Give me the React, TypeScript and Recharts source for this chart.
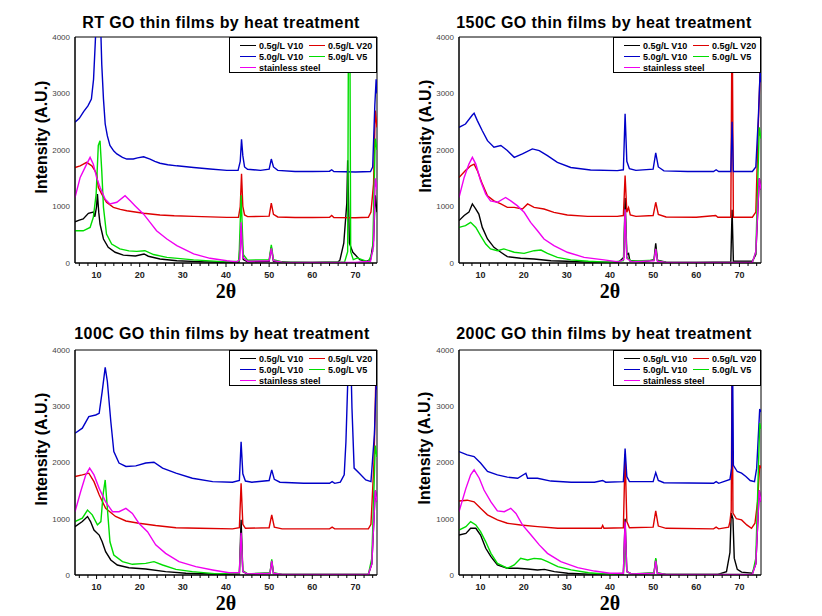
import React from 'react';
import { LineChart, Line, XAxis, YAxis, ReferenceArea } from 'recharts';

type Pt = [number, number];

const seriesNames = ['0.5g/L V10', '0.5g/L V20', '5.0g/L V10', '5.0g/L V5', 'stainless steel'];
const seriesColors = ['#000000', '#dd0000', '#0000c8', '#00dd00', '#f000f0'];
const xTicks = [6, 8, 10, 12, 14, 16, 18, 20, 22, 24, 26, 28, 30, 32, 34, 36, 38, 40, 42, 44, 46, 48, 50, 52, 54, 56, 58, 60, 62, 64, 66, 68, 70, 72, 74];
const yTicks = [0, 1000, 2000, 3000, 4000];

// ---- RT ----
const rtBlack: Pt[] = [[5,730],[6,760],[6.9,780],[8.1,880],[9.25,900],[9.6,820],[10,1000],[10.2,1220],[10.5,900],[10.8,690],[11.6,425],[12.7,277],[14.3,190],[16.2,140],[19,125],[21,160],[22,120],[24.7,70],[28.6,40],[35,20],[40,12],[43,15],[43.5,650],[44,60],[45,20],[50,30],[50.5,280],[51,30],[55,10],[60,10],[66,20],[66.4,50],[67.3,350],[68,1060],[68.2,1820],[68.6,350],[69.4,190],[71,60],[72.5,30],[73.5,60],[74.2,400],[74.6,1200],[75,900]];
const rtRed: Pt[] = [[5,1690],[6.2,1720],[7.7,1780],[8.9,1720],[9.5,1650],[10,1575],[10.4,1340],[11.2,1220],[12.3,1075],[13.9,985],[15.5,950],[17,925],[20.9,880],[24.7,850],[28,835],[32.5,826],[40.2,808],[42.9,810],[43.3,1000],[43.6,1580],[43.9,1000],[44.3,850],[45,820],[50,830],[50.5,1060],[51,860],[52,815],[56,805],[60,805],[64,810],[64.5,840],[65,805],[70,800],[73,810],[73.6,900],[74.2,1400],[74.6,2700],[75,2400]];
const rtBlue: Pt[] = [[5,2490],[6,2560],[7,2680],[8,2780],[8.8,2900],[9.3,3250],[9.7,3900],[10.2,4800],[10.8,4600],[11.2,3520],[11.6,2900],[12,2460],[12.5,2250],[13.1,2080],[14,1980],[14.7,1930],[16,1870],[17,1840],[18.5,1840],[19.5,1860],[20.9,1880],[22.4,1840],[23.5,1800],[24.7,1765],[26.5,1740],[28.6,1720],[32.5,1690],[36.3,1665],[40.2,1640],[42.8,1640],[43.3,1800],[43.6,2190],[43.9,1900],[44.3,1700],[45,1660],[48,1640],[50,1660],[50.5,1840],[51,1700],[52,1640],[56,1620],[60,1620],[64,1625],[64.5,1650],[65,1620],[70,1610],[73.5,1620],[74,1700],[74.5,2800],[74.8,3250],[75,3000]];
const rtGreen: Pt[] = [[5,570],[6.9,570],[8.5,630],[9.25,810],[9.9,1220],[10.4,2080],[10.8,2165],[11.2,1635],[11.6,985],[12.3,513],[13.5,336],[15.4,250],[17.5,215],[19.3,206],[21.2,218],[23.2,150],[26.3,100],[32.5,55],[40,20],[43,30],[43.5,1200],[44,150],[45,50],[50,60],[50.5,320],[51,60],[53,20],[60,10],[67.5,20],[68.2,200],[68.4,4500],[68.7,4500],[68.9,200],[69.5,60],[70.5,90],[71.5,60],[73,20],[74,200],[74.6,2200],[75,2000]];
const rtMagenta: Pt[] = [[5,1160],[6.2,1515],[7.7,1750],[8.5,1870],[9.25,1750],[10,1515],[10.8,1340],[12,1130],[13.1,1045],[14.7,1075],[16.6,1190],[17.8,1100],[18.9,1015],[20.9,865],[22.4,720],[23.9,570],[26.3,425],[28.6,307],[32.5,160],[36.3,83],[40.2,40],[42.5,20],[43.2,60],[43.5,720],[43.9,100],[45,30],[50,40],[50.5,260],[51,40],[53,15],[60,10],[65,10],[70,10],[73.5,30],[74.2,300],[74.6,1500],[75,1300]];

// ---- 150C ----
const c150Black: Pt[] = [[5,750],[6.2,840],[7.3,900],[8.1,1045],[8.9,955],[9.6,867],[10.4,630],[11.6,425],[13.1,277],[14.7,190],[16.2,112],[19.3,83],[22.4,70],[26.3,40],[30,30],[35,15],[42,15],[43.2,100],[43.5,1150],[43.9,150],[44.3,170],[44.6,40],[48,20],[50.2,60],[50.6,350],[51,50],[53,15],[60,10],[68,20],[68.3,940],[68.6,30],[73,30],[73.8,150],[74.6,1500],[75,1300]];
const c150Red: Pt[] = [[5,1515],[6.5,1635],[7.7,1720],[8.5,1750],[9.25,1635],[10.4,1400],[11.6,1190],[13.1,1100],[14.7,1045],[16.2,985],[17.8,985],[19.7,955],[20.9,1045],[22.4,985],[24.7,955],[27,897],[30.1,850],[34.8,826],[41.7,826],[43.1,840],[43.5,1550],[43.9,900],[44.3,980],[44.7,850],[46,825],[50,840],[50.6,1075],[51.2,860],[53,815],[60,810],[64.5,840],[65,810],[68,810],[68.3,4600],[68.6,810],[73,810],[73.8,900],[74.4,2500],[74.8,3400],[75,3200]];
const c150Blue: Pt[] = [[5,2400],[6.5,2460],[8.1,2620],[8.5,2650],[9.25,2520],[10.4,2340],[11.6,2165],[13.1,2050],[14.7,2080],[16.2,1990],[17.8,1870],[19.7,1930],[22,2020],[23.6,1990],[25.5,1900],[27.8,1780],[30.9,1690],[35.5,1645],[41.7,1635],[43.1,1650],[43.5,2640],[43.9,1800],[44.5,1670],[46,1640],[50,1660],[50.6,1950],[51.2,1700],[52.5,1630],[58,1620],[64,1620],[64.6,1650],[65.2,1620],[68,1620],[68.3,2500],[68.6,1620],[73,1620],[73.8,1700],[74.4,2600],[74.8,3400],[75,3200]];
const c150Green: Pt[] = [[5,630],[6.5,660],[7.7,720],[8.9,630],[10,484],[11.2,336],[12.3,250],[13.9,218],[15.4,250],[17.8,190],[20.1,170],[22.4,218],[24,230],[25.5,170],[27.8,100],[30.9,55],[35,30],[40,10],[43.1,40],[43.5,940],[43.9,100],[45,30],[50.2,50],[50.6,250],[51,40],[53,10],[73,10],[73.8,200],[74.6,2400],[75,2200]];
const c150Magenta: Pt[] = [[5,1160],[6.2,1515],[7.3,1750],[8.1,1870],[8.9,1750],[10,1457],[11.2,1220],[12.3,1100],[13.9,1075],[15.8,1160],[17,1100],[18.5,1015],[20.1,897],[21.6,720],[23.2,570],[24.7,425],[27,307],[30.1,190],[34,100],[38.6,55],[42,20],[43.2,60],[43.5,950],[43.9,80],[45,20],[50.2,40],[50.6,250],[51,30],[53,10],[73,10],[73.8,200],[74.6,1500],[75,1300]];

// ---- 100C ----
const c100Black: Pt[] = [[5,860],[6.7,950],[7.9,1040],[8.6,950],[9.4,800],[10.6,710],[11.3,590],[12.1,415],[13.3,267],[14.8,178],[17.5,130],[21.4,107],[26,60],[30.7,30],[40,10],[43.1,20],[43.5,980],[43.9,60],[45,15],[50.2,30],[50.6,250],[51,30],[53,10],[73,10],[73.8,200],[74.6,1500],[75,1300]];
const c100Red: Pt[] = [[5,1750],[6.7,1780],[8.2,1810],[9.4,1660],[10.6,1425],[12.1,1185],[14.4,1040],[16.8,960],[19.8,920],[23.7,880],[28.4,840],[33.8,830],[41.5,820],[43.1,840],[43.5,1630],[43.9,900],[44.5,830],[50,840],[50.6,1070],[51.2,850],[53,820],[64,820],[64.6,850],[65.2,820],[73,820],[73.6,900],[74.3,2000],[74.7,3400],[75,3300]];
const c100Blue: Pt[] = [[5,2520],[6.7,2610],[8.2,2815],[9.8,2845],[10.6,2875],[11.3,3260],[12,3690],[12.5,3440],[13.3,2730],[14,2195],[15.2,1990],[16.8,1930],[19.1,1940],[21.4,1990],[23.3,2005],[25.3,1900],[28.4,1810],[32.2,1720],[36.9,1660],[41.5,1650],[43.1,1680],[43.5,2370],[43.9,1800],[44.5,1670],[46,1650],[50,1680],[50.6,1870],[51.2,1700],[52.5,1650],[58,1630],[64,1630],[64.6,1660],[65.2,1630],[66.5,1650],[67.4,1780],[67.8,2370],[68.2,3380],[68.4,4500],[68.8,4300],[69.2,2965],[69.7,1900],[70.9,1810],[72.4,1690],[73.6,1660],[74.4,2500],[74.8,3400],[75,3300]];
const c100Green: Pt[] = [[5,950],[6.7,1010],[7.9,1155],[9,1070],[10.2,890],[11,950],[11.5,1425],[12,1690],[12.5,1185],[13.1,590],[14,355],[16,237],[18.3,190],[21.4,207],[23.3,237],[25.3,178],[28.4,100],[32.2,60],[38,20],[43.1,30],[43.5,700],[43.9,80],[45,20],[50.2,40],[50.6,280],[51,40],[53,10],[73,10],[73.8,300],[74.6,2300],[75,2100]];
const c100Magenta: Pt[] = [[5,1125],[6.3,1480],[7.5,1780],[8.4,1900],[9.4,1780],[10.6,1540],[12.1,1300],[13.7,1125],[15.2,1125],[16.8,1185],[18.3,1095],[19.8,920],[21.8,770],[23.7,535],[26,385],[29.1,237],[33,148],[36.9,90],[40.7,40],[43.1,40],[43.5,750],[43.9,60],[45,20],[50.2,30],[50.6,250],[51,30],[53,10],[73,10],[73.8,200],[74.6,1500],[75,1300]];

// ---- 200C ----
const c200Black: Pt[] = [[5,710],[6.6,740],[7.7,830],[8.9,830],[10,710],[11.2,475],[12.4,326],[13.9,178],[16.2,120],[18.6,120],[20.9,107],[23.2,90],[24.8,100],[27.1,60],[30.2,30],[35,15],[43.1,20],[43.5,1000],[43.9,60],[45,15],[50.2,30],[50.6,280],[51,30],[53,10],[65,10],[67,60],[67.8,400],[68.1,1100],[68.5,1000],[68.8,300],[69.5,100],[70.5,50],[73,30],[73.8,200],[74.6,1500],[75,1300]];
const c200Red: Pt[] = [[5,1315],[6.9,1330],[8.5,1300],[10,1185],[11.6,1070],[13.9,980],[16.2,920],[19.3,890],[23.2,860],[27.9,830],[32.5,830],[38,830],[38.3,880],[38.6,830],[43.1,840],[43.5,2150],[43.9,950],[44.5,840],[50,850],[50.6,1140],[51.2,870],[53,830],[64,820],[64.6,850],[65.2,820],[67.5,850],[67.8,950],[68.1,1150],[68.3,3900],[68.5,1100],[69.3,1000],[70.5,980],[71.7,890],[72.8,830],[73.6,920],[74.2,1300],[74.7,1950],[75,1900]];
const c200Blue: Pt[] = [[5,2195],[6.9,2135],[8.5,2105],[10,1990],[11.6,1840],[13.9,1780],[16.2,1740],[18.6,1720],[20.5,1810],[20.9,1720],[23.2,1720],[26.3,1670],[31,1650],[36.4,1650],[38.3,1680],[39,1650],[43.1,1660],[43.5,2250],[43.9,1750],[44.5,1660],[50,1660],[50.6,1820],[51.2,1680],[52.5,1640],[64,1630],[64.6,1660],[65.2,1630],[67.8,1700],[68.2,1900],[68.35,4500],[68.6,1950],[69.5,1840],[70.5,1810],[71.5,1750],[72.5,1680],[73.5,1660],[74,1900],[74.7,2950],[75,2900]];
const c200Green: Pt[] = [[5,800],[6.6,860],[7.7,950],[8.9,890],[10,770],[11.2,590],[12.4,385],[13.9,207],[16.2,120],[17.8,178],[19.3,296],[20.9,267],[22.4,296],[24,285],[25.5,237],[27.9,148],[31,90],[35,40],[40,10],[43.1,30],[43.5,600],[43.9,60],[45,20],[50.2,40],[50.6,300],[51,40],[53,10],[73,10],[73.8,300],[74.7,2700],[75,2600]];
const c200Magenta: Pt[] = [[5,1125],[6.6,1540],[7.7,1780],[8.5,1870],[9.7,1720],[10.8,1510],[12.4,1300],[13.9,1140],[15.5,1125],[17,1185],[18.2,1095],[19.7,890],[21.7,710],[23.6,535],[25.5,385],[28.6,237],[32.5,130],[36.4,70],[40,30],[43.1,30],[43.5,950],[43.9,60],[45,20],[50.2,30],[50.6,250],[51,30],[53,10],[73,10],[73.8,200],[74.6,1500],[75,1300]];

const SANS = 'Liberation Sans, Arial, sans-serif';
const SERIF = 'Liberation Serif, Times New Roman, serif';
const W = 411;
const H = 308;

interface PanelProps {
  title: string;
  series: Pt[][];
  left: number;
  top: number;
  plot: { l: number; r: number; t: number; b: number };
  titleX: number;
  titleY: number;
  yLabelX: number;
  yLabelY: number;
}

const XTick = (props: any) => {
  const { x, y, payload } = props;
  const major = payload.value % 10 === 0;
  return (
    <g>
      <line x1={x} x2={x} y1={y} y2={y + (major ? 4 : 3)} stroke="#000" strokeWidth={1} />
      {major && (
        <text x={x} y={y + 15} textAnchor="middle" fontSize={9} fontWeight="bold" fill="#222" fontFamily={SANS}>
          {payload.value}
        </text>
      )}
    </g>
  );
};

const Panel: React.FC<PanelProps> = ({ title, series, left, top, plot, titleX, titleY, yLabelX, yLabelY }) => {
  const margin = { top: plot.t, bottom: H - plot.b - 30, left: plot.l - 40, right: W - plot.r };
  const legendW = 148;
  return (
    <div style={{ position: 'absolute', left, top, width: W, height: H }}>
      <LineChart width={W} height={H} margin={margin}>
        <XAxis
          type="number"
          dataKey="x"
          domain={[5, 75]}
          ticks={xTicks}
          allowDataOverflow
          height={30}
          tickSize={0}
          tickMargin={0}
          tickLine={false}
          axisLine={{ stroke: '#000' }}
          tick={<XTick />}
          interval={0}
        />
        <YAxis
          type="number"
          dataKey="y"
          domain={[0, 4000]}
          ticks={yTicks}
          allowDataOverflow
          width={40}
          tickSize={0}
          tickMargin={5}
          tickLine={false}
          axisLine={{ stroke: '#000' }}
          tick={{ fontSize: 8, fill: '#444', fontFamily: SANS }}
          interval={0}
        />
        <ReferenceArea x1={5} x2={75} y1={0} y2={4000} fill="#ffffff" fillOpacity={0} stroke="#000" strokeOpacity={1} />
        {series.map((pts, i) => (
          <Line
            key={seriesNames[i]}
            data={pts.map(([x, y]) => ({ x, y }))}
            dataKey="y"
            name={seriesNames[i]}
            type="linear"
            stroke={seriesColors[i]}
            strokeWidth={1.4}
            dot={false}
            activeDot={false}
            isAnimationActive={false}
          />
        ))}
      </LineChart>
      <svg width={W} height={H} style={{ position: 'absolute', left: 0, top: 0, pointerEvents: 'none' }}>
        <text x={titleX} y={titleY} textAnchor="middle" fontSize={16} fontWeight="bold" letterSpacing={0.4} fontFamily={SANS} fill="#000">
          {title}
        </text>
        <text
          x={yLabelX}
          y={yLabelY}
          transform={`rotate(-90 ${yLabelX} ${yLabelY})`}
          textAnchor="middle"
          dominantBaseline="central"
          fontSize={16}
          fontWeight="bold"
          fontFamily={SANS}
          fill="#000"
        >
          Intensity (A.U.)
        </text>
        <text x={(plot.l + plot.r) / 2} y={plot.b + 35} textAnchor="middle" fontSize={20} fontWeight="bold" fontFamily={SERIF} fill="#000">
          2θ
        </text>
      </svg>
      <div
        style={{
          position: 'absolute',
          left: plot.r - legendW,
          top: plot.t,
          width: legendW,
          height: 36,
          boxSizing: 'border-box',
          border: '1px solid #000',
          background: '#fff',
        }}
      >
        <svg width={legendW - 2} height={34} style={{ position: 'absolute', left: 0, top: 0 }}>
          {seriesNames.map((name, i) => {
            const col = i % 2;
            const row = Math.floor(i / 2);
            const lx = col === 0 ? 10 : 79;
            const cy = 7.5 + row * 11;
            return (
              <g key={name}>
                <line x1={lx} x2={lx + 16} y1={cy} y2={cy} stroke={seriesColors[i]} strokeWidth={1} />
                <text x={lx + 19} y={cy + 3.2} fontSize={9} fontWeight="bold" fontFamily={SANS} fill="#000">
                  {name}
                </text>
              </g>
            );
          })}
        </svg>
      </div>
    </div>
  );
};

export default function App() {
  return (
    <div style={{ position: 'absolute', left: 0, top: 0, width: 822, height: 616, background: '#fff' }}>
      <Panel
        title="RT GO thin films by heat treatment"
        series={[rtBlack, rtRed, rtBlue, rtGreen, rtMagenta]}
        left={0}
        top={0}
        plot={{ l: 75, r: 377, t: 37, b: 263 }}
        titleX={221}
        titleY={27.5}
        yLabelX={41}
        yLabelY={137}
      />
      <Panel
        title="150C GO thin films by heat treatment"
        series={[c150Black, c150Red, c150Blue, c150Green, c150Magenta]}
        left={411}
        top={0}
        plot={{ l: 48, r: 350, t: 37, b: 263 }}
        titleX={193}
        titleY={27.5}
        yLabelX={14}
        yLabelY={136}
      />
      <Panel
        title="100C GO thin films by heat treatment"
        series={[c100Black, c100Red, c100Blue, c100Green, c100Magenta]}
        left={0}
        top={308}
        plot={{ l: 75, r: 377, t: 42, b: 267 }}
        titleX={222}
        titleY={31}
        yLabelX={41}
        yLabelY={141}
      />
      <Panel
        title="200C GO thin films by heat treatment"
        series={[c200Black, c200Red, c200Blue, c200Green, c200Magenta]}
        left={411}
        top={308}
        plot={{ l: 48, r: 350, t: 42, b: 267 }}
        titleX={193}
        titleY={31}
        yLabelX={13}
        yLabelY={140}
      />
    </div>
  );
}
